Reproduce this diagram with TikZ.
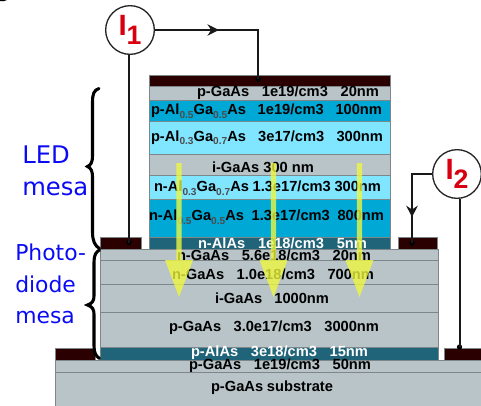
\documentclass[tikz,border=0pt]{standalone}
\usepackage{fontspec}
\setmainfont{Liberation Sans}
\newfontfamily\labfont{DejaVu Sans}
\usetikzlibrary{arrows.meta,decorations.markings}
\definecolor{lgray}{RGB}{184,196,200}
\definecolor{lblue}{RGB}{128,229,255}
\definecolor{mblue}{RGB}{0,168,214}
\definecolor{dteal}{RGB}{31,100,120}
\definecolor{contactc}{RGB}{42,0,0}
\definecolor{edgec}{RGB}{125,135,138}
\definecolor{redc}{RGB}{216,0,16}
\definecolor{yel}{RGB}{240,248,60}
\definecolor{labblue}{RGB}{10,10,245}
% px -> pt
\newcommand{\lay}[6]{% name x0 y0 x1 y1 fill
  \pgfmathsetmacro{\lw}{(#4-#2)*0.75}\pgfmathsetmacro{\lh}{(#5-#3)*0.75}
  \node[layerbox,fill=#6,minimum width=\lw pt,minimum height=\lh pt,anchor=north west] (#1) at (#2,#3) {};}
\newcommand{\rowt}[6][black]{% color name x0 x1 y content
  \pgfmathsetmacro{\lw}{(#4-#3)*0.75}
  \node[rowtext,text=#1,anchor=west] (#2) at (#3,#5) {\hbox to \lw pt{#6}};}
\newcommand{\sbx}[1]{\raisebox{-2.6pt}{\fontsize{7.6}{8}\selectfont\bfseries\color{black!70}#1}}
\tikzset{
  layerbox/.style={draw=edgec,line width=0.7pt,inner sep=0pt,outer sep=0pt},
  rowtext/.style={inner sep=0pt,outer sep=0pt,font=\bfseries\fontsize{11}{12}\selectfont,text=black},
  source/.style={circle,draw=black!85,line width=1pt,fill=white,minimum size=36.5pt,inner sep=0pt,text=redc},
  wire/.style={draw=black!90,line width=1.5pt},
  dotc/.style={fill=black,circle,inner sep=0pt,minimum size=4pt},
  brc/.style={draw=black,line width=2.3pt,line cap=round},
  glow/.style={fill=yel,fill opacity=.78,draw=none},
  ledlab/.style={font=\labfont\fontsize{18.2}{20}\selectfont,text=labblue,anchor=base west,inner sep=0pt},
  pdlab/.style={font=\labfont\fontsize{16.4}{18}\selectfont,text=labblue,anchor=base west,inner sep=0pt},
  midarrow/.style={postaction={decorate},decoration={markings,mark=at position #1 with {\arrow{Stealth[length=8.5pt,width=8.5pt]}}}}
}
\begin{document}
\begin{tikzpicture}[x=0.75pt,y=-0.75pt]
\useasboundingbox (0,0) rectangle (481,405);
\clip (0,0) rectangle (481,405);
\fill[black] (0,0) -- (7,0) .. controls (5,1.5) and (2,1.5) .. (0,1) -- cycle;
% LED mesa layers
\lay{cap}{149}{75}{390}{86}{contactc}
\lay{l1}{149}{86}{390}{100}{lgray}
\lay{l2}{149}{100}{390}{121}{mblue}
\lay{l3}{149}{121}{390}{154.5}{lblue}
\lay{l4}{149}{154.5}{390}{175}{lgray}
\lay{l5}{149}{175}{390}{199}{lblue}
\lay{l6}{149}{199}{390}{237}{mblue}
\lay{l7}{149}{237}{390}{249}{dteal}
% photodiode layers
\lay{p1}{100.5}{249}{438}{260}{lgray}
\lay{p2}{100.5}{260}{438}{284}{lgray}
\lay{p3}{100.5}{284}{438}{312}{lgray}
\lay{p4}{100.5}{312}{438}{347}{lgray}
\lay{p5}{100.5}{347}{438}{360}{dteal}
% base
\lay{b1}{55}{360}{484}{372}{lgray}
\lay{b2}{55}{372}{484}{410}{lgray}
% contacts
\lay{cL}{100}{237}{141}{249}{contactc}
\lay{cR}{398}{237}{437}{249}{contactc}
\lay{cBL}{55.5}{348}{95}{360}{contactc}
\lay{cBR}{444}{348}{484}{360}{contactc}
% text
\rowt{t1}{197}{379}{93}{p-GaAs\hfill 1e19/cm3\hfill 20nm}
\rowt{t2}{151}{382}{111}{p-Al\sbx{0.5}Ga\sbx{0.5}As\hfill 1e19/cm3\hfill 100nm}
\rowt{t3}{151}{383}{138}{p-Al\sbx{0.3}Ga\sbx{0.7}As\hfill 3e17/cm3\hfill 300nm}
\rowt{t4}{212}{314}{167}{i-GaAs\hfill 300\hfill nm}
\rowt{t5}{154}{381}{188}{n-Al\sbx{0.3}Ga\sbx{0.7}As\hfill 1.3e17/cm3\hfill 300nm}
\rowt{t6}{149}{384}{217}{n-Al\sbx{0.5}Ga\sbx{0.5}As\hfill 1.3e17/cm3\hfill 800nm}
\rowt[white]{t7}{198}{367}{243}{n-AlAs\hfill 1e18/cm3\hfill 5nm}
\rowt{t8}{177}{371}{255}{n-GaAs\hfill 5.6e18/cm3\hfill 20nm}
\rowt{t9}{172}{374}{274}{n-GaAs\hfill 1.0e18/cm3\hfill 700nm}
\rowt{t10}{215}{329}{298}{i-GaAs\hfill 1000nm}
\rowt{t11}{169}{379}{328}{p-GaAs\hfill 3.0e17/cm3\hfill 3000nm}
\rowt[white]{t12}{191}{368}{353}{p-AlAs\hfill 3e18/cm3\hfill 15nm}
\rowt{t13}{189}{371}{366}{p-GaAs\hfill 1e19/cm3\hfill 50nm}
\rowt{t14}{211}{333}{388}{p-GaAs\hfill substrate}
% light arrows
\foreach \ax in {179,273.5,359.5}{
  \fill[glow] (\ax-2.7,163) -- (\ax+2.7,163) -- (\ax+2.7,260) -- (\ax+14,260) -- (\ax,297) -- (\ax-14,260) -- (\ax-2.7,260) -- cycle;
}
% sources
\node[source] (I1) at (130,30) {\raisebox{1pt}{\fontsize{22}{22}\selectfont\bfseries I}\raisebox{-6pt}{\fontsize{20}{20}\selectfont\bfseries 1}};
\node[source] (I2) at (457,174) {\raisebox{1pt}{\fontsize{22}{22}\selectfont\bfseries I}\raisebox{-6pt}{\fontsize{20}{20}\selectfont\bfseries 2}};
% contact points
\node[dotc] (d1) at (258,79) {};
\node[dotc] (d2) at (129,242.5) {};
\node[dotc] (d3) at (412,243) {};
\node[dotc] (d4) at (459.5,347) {};
% wires
\draw[wire,midarrow=0.42] (I1.east) -| (d1.center);
\draw[wire] (I1.south -| d2) -- (d2.center);
\draw[wire,midarrow=0.71] (I2.west) -| (d3.center);
\draw[wire] (I2.south -| d4) -- (d4.center);
% braces
\draw[brc] (99,88.5) .. controls (94,90) and (92.5,94) .. (92.5,102) -- (92.5,156) .. controls (92.5,162) and (91,165) .. (87.5,166.5) .. controls (91,168) and (92.5,171) .. (92.5,177) -- (92.5,232) .. controls (92.5,241) and (95,246) .. (99.5,248.5);
\draw[brc] (99.5,250) .. controls (96,252) and (94,255) .. (94,262) -- (94,296) .. controls (94,301) and (92,303.5) .. (87.5,305) .. controls (92,306.5) and (94,309) .. (94,314) -- (94,346) .. controls (94,353) and (96,356) .. (99.5,358.5);
% labels
\node[ledlab] (ll1) at (22,163) {LED};
\node[ledlab] (ll2) at (22,195) {mesa};
\node[pdlab] (pl1) at (15,260) {Photo-};
\node[pdlab] (pl2) at (15,292) {diode};
\node[pdlab] (pl3) at (15,323) {mesa};
\end{tikzpicture}
\end{document}
